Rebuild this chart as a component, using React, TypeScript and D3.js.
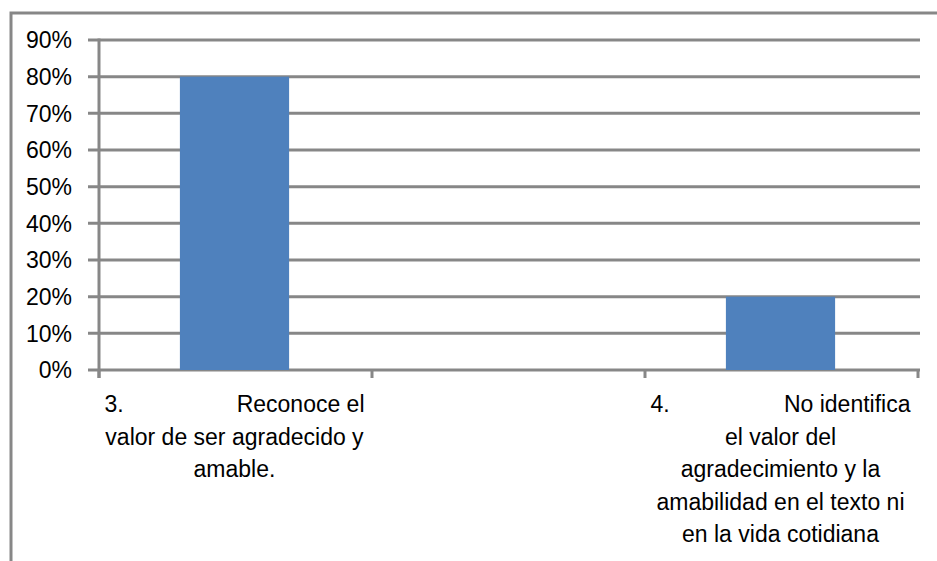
import React, { useEffect, useRef } from 'react';
import * as d3 from 'd3';

const categories = ['cat3', 'blank', 'cat4'];
const values = [0.8, 0, 0.2];
const categoryNumbers = ['3.', '', '4.'];
const categoryLines = [
  ['Reconoce el', 'valor de ser agradecido y', 'amable.'],
  [],
  ['No identifica', 'el valor del', 'agradecimiento y la', 'amabilidad en el texto ni', 'en la vida cotidiana'],
];
const yTicks = [0, 0.1, 0.2, 0.3, 0.4, 0.5, 0.6, 0.7, 0.8, 0.9];

const W = 937;
const H = 561;
const GRAY = '#878787';
const FONT = '"Liberation Sans", Arial, sans-serif';

export default function App() {
  const svgRef = useRef<SVGSVGElement>(null);

  useEffect(() => {
    const svg = d3.select(svgRef.current);
    svg.selectAll('*').remove();

    const margin = { left: 99, right: 19, top: 40, bottom: 191 };

    const x = d3.scaleBand<string>()
      .domain(categories)
      .range([margin.left, W - margin.right])
      .padding(0);

    const y = d3.scaleLinear()
      .domain([0, 0.9])
      .range([H - margin.bottom, margin.top]);

    // outer frame (cut off at right and bottom)
    svg.append('rect')
      .attr('x', 11)
      .attr('y', 13)
      .attr('width', 1000)
      .attr('height', 700)
      .attr('fill', 'white')
      .attr('stroke', GRAY)
      .attr('stroke-width', 3);

    // gridlines
    svg.append('g')
      .selectAll('line')
      .data(yTicks)
      .enter()
      .append('line')
      .attr('x1', margin.left - 11)
      .attr('x2', W - margin.right + 2)
      .attr('y1', d => y(d))
      .attr('y2', d => y(d))
      .attr('stroke', GRAY)
      .attr('stroke-width', 3);

    // bars
    const barW = x.bandwidth() * 0.4;
    svg.append('g')
      .selectAll('rect')
      .data(values)
      .enter()
      .append('rect')
      .attr('x', (d, i) => (x(categories[i]) as number) + x.bandwidth() / 2 - barW / 2 - 1)
      .attr('y', d => y(d))
      .attr('width', barW)
      .attr('height', d => y(0) - y(d))
      .attr('fill', '#4F81BD');

    // y axis line
    svg.append('line')
      .attr('x1', margin.left)
      .attr('x2', margin.left)
      .attr('y1', y(0.9) - 1.5)
      .attr('y2', y(0) + 8)
      .attr('stroke', GRAY)
      .attr('stroke-width', 3);

    // x axis ticks at category boundaries
    const bounds = categories.map(c => x(c) as number).concat([W - margin.right]);
    svg.append('g')
      .selectAll('line')
      .data(bounds)
      .enter()
      .append('line')
      .attr('x1', d => d)
      .attr('x2', d => d)
      .attr('y1', y(0))
      .attr('y2', y(0) + 8)
      .attr('stroke', GRAY)
      .attr('stroke-width', 3);

    // y labels
    svg.append('g')
      .selectAll('text')
      .data(yTicks)
      .enter()
      .append('text')
      .attr('x', 72)
      .attr('y', d => y(d))
      .attr('dy', '0.36em')
      .attr('text-anchor', 'end')
      .attr('font-family', FONT)
      .attr('font-size', 23)
      .attr('fill', '#000')
      .text(d => d3.format('.0%')(d));

    // category labels
    const half = 130;
    const lineH = 32.6;
    const baseY = y(0) + 42;
    categories.forEach((c, i) => {
      const cx = (x(c) as number) + x.bandwidth() / 2 - 1;
      const g = svg.append('g')
        .attr('font-family', FONT)
        .attr('font-size', 23)
        .attr('fill', '#000');
      if (categoryNumbers[i]) {
        g.append('text')
          .attr('x', cx - half)
          .attr('y', baseY)
          .attr('text-anchor', 'start')
          .text(categoryNumbers[i]);
      }
      categoryLines[i].forEach((line, j) => {
        g.append('text')
          .attr('x', j === 0 ? cx + half : cx)
          .attr('y', baseY + j * lineH)
          .attr('text-anchor', j === 0 ? 'end' : 'middle')
          .text(line);
      });
    });
  }, []);

  return (
    <svg
      ref={svgRef}
      width={W}
      height={H}
      style={{ position: 'absolute', left: 0, top: 0, background: 'white' }}
    ></svg>
  );
}
